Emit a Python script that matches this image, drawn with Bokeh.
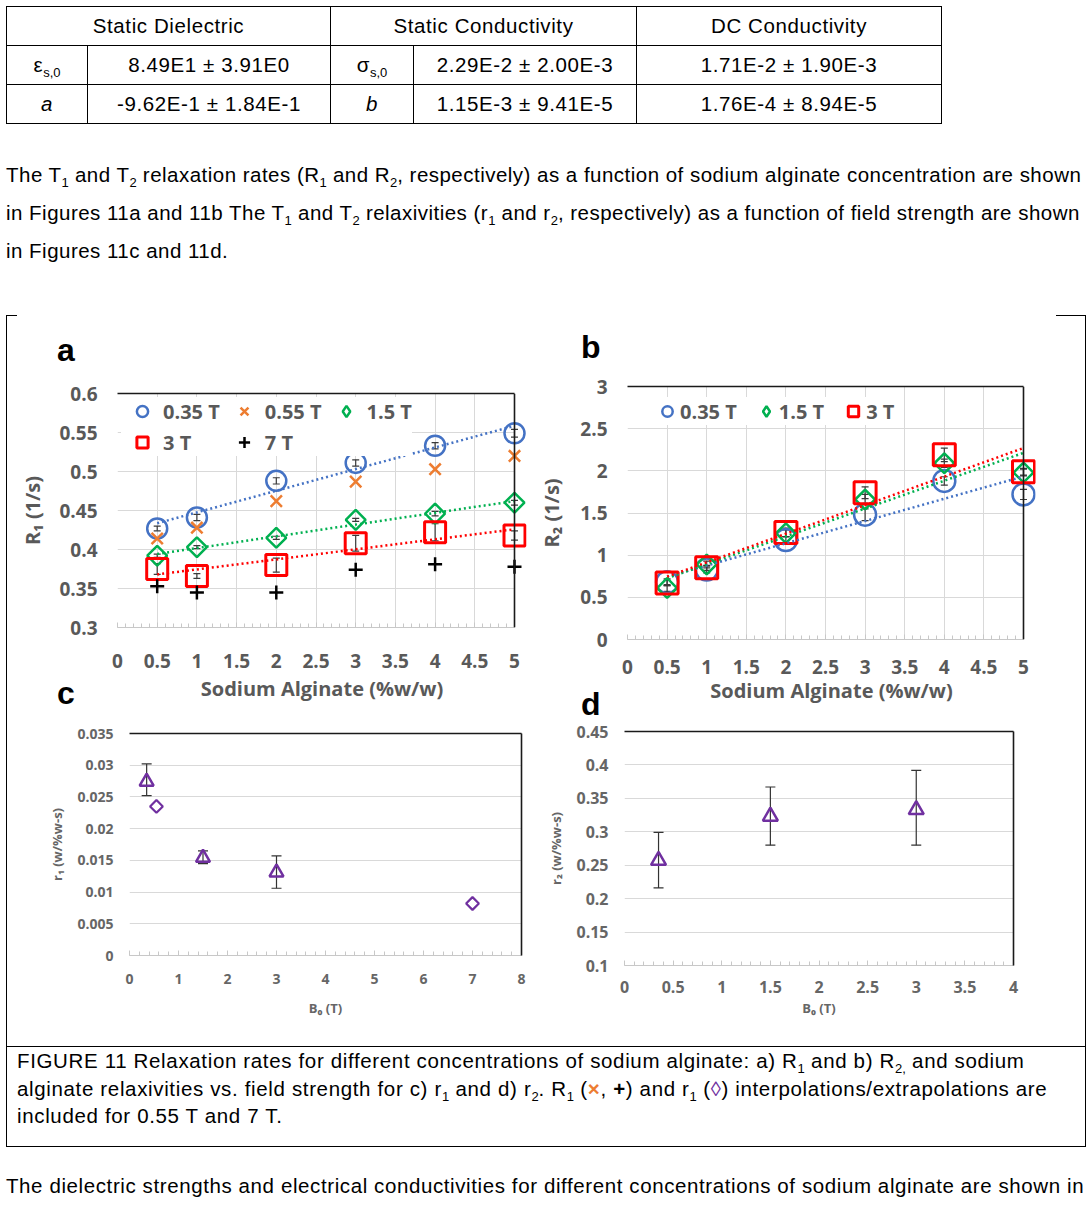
import numpy as np
from bokeh.plotting import figure
from bokeh.models import (ColumnDataSource, Whisker, TeeHead, Legend, LegendItem,
                          LinearAxis, FixedTicker, Div, Spacer, Range1d, Span)
from bokeh.layouts import column, row
from bokeh.embed import file_html
from bokeh.resources import INLINE

# ---------------- data ----------------
conc = [0.5, 1, 2, 3, 4, 5]
# Figure a : R1 (1/s)
r1_035 = [0.427, 0.441, 0.488, 0.511, 0.533, 0.549]
r1_035_err = [0.003, 0.004, 0.004, 0.004, 0.004, 0.005]
r1_055 = [0.414, 0.428, 0.462, 0.487, 0.503, 0.520]
r1_15 = [0.392, 0.403, 0.415, 0.438, 0.446, 0.460]
r1_15_err = [0.002, 0.002, 0.002, 0.002, 0.003, 0.003]
r1_3 = [0.375, 0.366, 0.380, 0.408, 0.422, 0.418]
r1_3_err = [0.007, 0.003, 0.009, 0.010, 0.011, 0.006]
r1_7 = [0.353, 0.345, 0.345, 0.374, 0.381, 0.378]
# Figure b : R2 (1/s)
r2_035 = [0.68, 0.83, 1.18, 1.48, 1.88, 1.72]
r2_035_err = [0.04, 0.04, 0.04, 0.07, 0.05, 0.06]
r2_15 = [0.61, 0.89, 1.26, 1.66, 2.09, 1.98]
r2_15_err = [0.04, 0.04, 0.04, 0.06, 0.05, 0.04]
r2_3 = [0.67, 0.85, 1.27, 1.74, 2.19, 1.99]
r2_3_err = [0.03, 0.03, 0.05, 0.07, 0.08, 0.04]
# Figure c : r1 relaxivity
b0_meas = [0.35, 1.5, 3]
r1_rel = [0.0274, 0.0154, 0.0131]
r1_rel_lo = [0.0252, 0.0145, 0.0106]
r1_rel_hi = [0.0302, 0.0165, 0.0157]
b0_interp = [0.55, 7]
r1_rel_interp = [0.0235, 0.0082]
# Figure d : r2 relaxivity
r2_rel = [0.257, 0.323, 0.333]
r2_rel_lo = [0.216, 0.280, 0.280]
r2_rel_hi = [0.299, 0.367, 0.392]

# tick labels
ab_x_ticks = [0, 0.5, 1, 1.5, 2, 2.5, 3, 3.5, 4, 4.5, 5]
ab_x_labels = ["0", "0.5", "1", "1.5", "2", "2.5", "3", "3.5", "4", "4.5", "5"]
a_y_ticks = [0.3, 0.35, 0.4, 0.45, 0.5, 0.55, 0.6]
a_y_labels = ["0.3", "0.35", "0.4", "0.45", "0.5", "0.55", "0.6"]
b_y_ticks = [0, 0.5, 1, 1.5, 2, 2.5, 3]
b_y_labels = ["0", "0.5", "1", "1.5", "2", "2.5", "3"]
c_x_ticks = [0, 1, 2, 3, 4, 5, 6, 7, 8]
c_x_labels = ["0", "1", "2", "3", "4", "5", "6", "7", "8"]
c_y_ticks = [0, 0.005, 0.01, 0.015, 0.02, 0.025, 0.03, 0.035]
c_y_labels = ["0", "0.005", "0.01", "0.015", "0.02", "0.025", "0.03", "0.035"]
d_x_ticks = [0, 0.5, 1, 1.5, 2, 2.5, 3, 3.5, 4]
d_x_labels = ["0", "0.5", "1", "1.5", "2", "2.5", "3", "3.5", "4"]
d_y_ticks = [0.1, 0.15, 0.2, 0.25, 0.3, 0.35, 0.4, 0.45]
d_y_labels = ["0.1", "0.15", "0.2", "0.25", "0.3", "0.35", "0.4", "0.45"]

BLUE, ORANGE, GREEN, RED, BLACK, PURPLE = "#4472C4", "#ED7D31", "#00B050", "#FF0000", "#000000", "#7030A0"
CF = "Open Sans"
FRAME = "#1a1a1a"


def fit(x, y):
    k, b = np.polyfit(x, y, 1)
    xs = [min(x), max(x)]
    return xs, [k * v + b for v in xs]


def make_fig(w, h, left, right, top, bottom, xr, yr):
    p = figure(width=w, height=h, x_range=Range1d(*xr), y_range=Range1d(*yr),
               output_backend="svg", toolbar_location=None, margin=0,
               min_border_left=left, min_border_right=right,
               min_border_top=top, min_border_bottom=bottom)
    p.outline_line_color = None
    p.background_fill_color = "white"
    p.border_fill_color = "white"
    return p


def style_axes(p, xt, xl, yt, yl, xminor, fs, col, xtitle, ytitle, tfs,
               ystand, xstand, xtstand, ytstand, vgrid, span_right=False):
    p.xaxis.ticker = FixedTicker(ticks=xt, minor_ticks=xminor)
    p.xaxis.major_label_overrides = dict(zip(xt, xl))
    p.yaxis.ticker = FixedTicker(ticks=yt)
    p.yaxis.major_label_overrides = dict(zip(yt, yl))
    for ax in (p.xaxis[0], p.yaxis[0]):
        ax.major_label_text_font = CF
        ax.major_label_text_font_style = "bold"
        ax.major_label_text_font_size = fs
        ax.major_label_text_color = col
        ax.axis_label_text_font = CF
        ax.axis_label_text_font_style = "bold"
        ax.axis_label_text_font_size = tfs
        ax.axis_label_text_color = col
    p.yaxis.axis_line_color = None
    p.yaxis.major_tick_line_color = None
    p.yaxis.minor_tick_line_color = None
    p.yaxis.major_tick_out = 0
    p.yaxis.major_label_standoff = ystand
    p.yaxis.axis_label = ytitle
    p.yaxis.axis_label_standoff = ytstand
    p.xaxis.axis_line_color = "#c8c8c8"
    p.xaxis.major_tick_line_color = "#c8c8c8"
    p.xaxis.minor_tick_line_color = "#c8c8c8"
    p.xaxis.major_tick_in = 5
    p.xaxis.major_tick_out = 0
    p.xaxis.minor_tick_in = 4
    p.xaxis.minor_tick_out = 0
    p.xaxis.major_label_standoff = xstand
    p.xaxis.axis_label = xtitle
    p.xaxis.axis_label_standoff = xtstand
    p.xaxis.bounds = (xt[0], xt[-1])
    p.ygrid.grid_line_color = "#d9d9d9"
    try:
        p.ygrid.cross_bounds = (xt[0], xt[-1])
    except AttributeError:
        pass
    p.xgrid.grid_line_color = "#d9d9d9" if vgrid else None
    # black frame line on top (Excel-style secondary axis)
    top = LinearAxis(ticker=FixedTicker(ticks=[]), major_label_text_font_size="0px",
                     major_tick_line_color=None, minor_tick_line_color=None,
                     major_tick_out=0, major_label_standoff=0, bounds=(xt[0], xt[-1]),
                     axis_line_color=FRAME, axis_line_width=1.6)
    p.add_layout(top, "above")
    if span_right:
        p.add_layout(Span(location=xt[-1], dimension="height", line_color=FRAME, line_width=1.6))
    else:
        right = LinearAxis(ticker=FixedTicker(ticks=[]), major_label_text_font_size="0px",
                           major_tick_line_color=None, minor_tick_line_color=None,
                           major_tick_out=0, major_label_standoff=0,
                           axis_line_color=FRAME, axis_line_width=1.6)
        p.add_layout(right, "right")


def whisk(p, x, y, err, color, size=8, lw=1.2):
    src = ColumnDataSource(dict(x=x, lo=[a - e for a, e in zip(y, err)], hi=[a + e for a, e in zip(y, err)]))
    p.add_layout(Whisker(base="x", lower="lo", upper="hi", source=src, dimension="height",
                         line_color=color, line_width=lw,
                         upper_head=TeeHead(size=size, line_color=color, line_width=lw),
                         lower_head=TeeHead(size=size, line_color=color, line_width=lw)))


def whisk_lohi(p, x, lo, hi, color, size=10, lw=1.2):
    src = ColumnDataSource(dict(x=x, lo=lo, hi=hi))
    p.add_layout(Whisker(base="x", lower="lo", upper="hi", source=src, dimension="height",
                         line_color=color, line_width=lw,
                         upper_head=TeeHead(size=size, line_color=color, line_width=lw),
                         lower_head=TeeHead(size=size, line_color=color, line_width=lw)))


def style_legend(leg, gw, gh, spacing):
    leg.label_text_font = CF
    leg.label_text_font_style = "bold"
    leg.label_text_font_size = "20px"
    leg.label_text_color = "#595959"
    leg.glyph_width = gw
    leg.glyph_height = gh
    leg.label_standoff = 0
    leg.spacing = spacing
    leg.padding = 0
    leg.margin = 0
    leg.border_line_color = None
    leg.background_fill_color = "white"
    leg.background_fill_alpha = 1.0
    leg.inactive_fill_alpha = 0.0


# ---------------- figure a ----------------
# frame is 12 px wider than the 0..5 axis so the markers at x=5 are not cut
fa = make_fig(527, 338, 110, 8, 27, 76, (0, 5 * 409 / 397), (0.3, 0.6))
style_axes(fa, ab_x_ticks, ab_x_labels, a_y_ticks, a_y_labels,
           list(np.arange(0, 5.0001, 0.1)), "19px", "#595959",
           "Sodium Alginate (%w/w)", "R\u2081 (1/s)", "20px", 20, 26, 4, 10, True, span_right=True)
whisk(fa, conc, r1_035, r1_035_err, "#3a3a3a", 7)
whisk(fa, conc, r1_15, r1_15_err, "#3a3a3a", 7)
whisk(fa, conc, r1_3, r1_3_err, "#3a3a3a", 7)
ra1 = fa.scatter(conc, r1_035, marker="circle", size=20, fill_color=None, line_color=BLUE, line_width=2.5)
ra2 = fa.scatter(conc, r1_055, marker="x", size=16, line_color=ORANGE, line_width=2.5)
fa.scatter(conc, r1_15, marker="square", angle=np.pi / 4, size=14, fill_color=None, line_color=GREEN, line_width=2.5)
ra4 = fa.scatter(conc, r1_3, marker="square", size=21, fill_color=None, line_color=RED, line_width=3)
ra5 = fa.scatter(conc, r1_7, marker="cross", size=14, line_color=BLACK, line_width=2.5)
# hidden twin of the 1.5 T series: only supplies the diamond glyph of the legend
ra3 = fa.scatter(conc, r1_15, marker="diamond", size=16, fill_color=None, line_color=GREEN, line_width=2.5, visible=False)
for ys, c in ((r1_035, BLUE), (r1_15, GREEN), (r1_3, RED)):
    xs, yf = fit(conc, ys)
    fa.line(xs, yf, line_color=c, line_width=2.5, line_dash="2 3")
lega = Legend(items=[LegendItem(label="0.35 T", renderers=[ra1]),
                     LegendItem(label="3 T", renderers=[ra4]),
                     LegendItem(label="0.55 T", renderers=[ra2]),
                     LegendItem(label="7 T", renderers=[ra5]),
                     LegendItem(label="1.5 T", renderers=[ra3])],
              ncols=3, location=(4, 171))
style_legend(lega, 42, 28, 3)
fa.add_layout(lega)

# ---------------- figure b ----------------
fb = make_fig(551, 348, 93, 50, 22, 73, (0, 5 * 408 / 396), (0, 3))
style_axes(fb, ab_x_ticks, ab_x_labels, b_y_ticks, b_y_labels,
           list(np.arange(0, 5.0001, 0.1)), "19px", "#595959",
           "Sodium Alginate (%w/w)", "R\u2082 (1/s)", "20px", 20, 20, 0, 12, True, span_right=True)
whisk(fb, conc, r2_035, r2_035_err, "#3a3a3a", 7)
whisk(fb, conc, r2_15, r2_15_err, "#3a3a3a", 7)
whisk(fb, conc, r2_3, r2_3_err, "#3a3a3a", 7)
rb1 = fb.scatter(conc, r2_035, marker="circle", size=22, fill_color=None, line_color=BLUE, line_width=2.5)
fb.scatter(conc, r2_15, marker="square", angle=np.pi / 4, size=14, fill_color=None, line_color=GREEN, line_width=2.5)
rb3 = fb.scatter(conc, r2_3, marker="square", size=22, fill_color=None, line_color=RED, line_width=3)
rb2 = fb.scatter(conc, r2_15, marker="diamond", size=16, fill_color=None, line_color=GREEN, line_width=2.5, visible=False)
for ys, c in ((r2_035, BLUE), (r2_15, GREEN), (r2_3, RED)):
    xs, yf = fit(conc, ys)
    fb.line(xs, yf, line_color=c, line_width=2.5, line_dash="2 3")
legb = Legend(items=[LegendItem(label="0.35 T", renderers=[rb1]),
                     LegendItem(label="1.5 T", renderers=[rb2]),
                     LegendItem(label="3 T", renderers=[rb3])],
              orientation="horizontal", location=(27, 214))
style_legend(legb, 26, 28, 16)
fb.add_layout(legb)

# ---------------- figure c ----------------
fc = make_fig(527, 340, 122, 13, 27, 91, (0, 8), (0, 0.035))
style_axes(fc, c_x_ticks, c_x_labels, c_y_ticks, c_y_labels,
           list(np.arange(0, 8.0001, 0.2)), "14px", "#666666",
           "B\u2080 (T)", "r\u2081 (w/%w-s)", "13px", 16, 18, 12, 8, False)
whisk_lohi(fc, b0_meas, r1_rel_lo, r1_rel_hi, "#333333", 10)
fc.scatter(b0_meas, r1_rel, marker="triangle", size=14, fill_color=None, line_color=PURPLE, line_width=2.5)
fc.scatter(b0_interp, r1_rel_interp, marker="square", angle=np.pi / 4, size=9, fill_color=None, line_color=PURPLE, line_width=2.2)

# ---------------- figure d ----------------
fd = make_fig(551, 329, 90, 72, 14, 81, (0, 4), (0.1, 0.45))
style_axes(fd, d_x_ticks, d_x_labels, d_y_ticks, d_y_labels,
           list(np.arange(0, 4.0001, 0.1)), "16px", "#666666",
           "B\u2080 (T)", "r\u2082 (w/%w-s)", "13px", 16, 15, 3, 8, False)
whisk_lohi(fd, b0_meas, r2_rel_lo, r2_rel_hi, "#333333", 10)
fd.scatter(b0_meas, r2_rel, marker="triangle", size=15, fill_color=None, line_color=PURPLE, line_width=2.5)

# ---------------- text blocks ----------------
BASE = "font-family:'Liberation Sans',Arial,sans-serif; font-size:20.5px; color:#000;"
cell = "border:1px solid #000; text-align:center; vertical-align:top; padding:4px 0 0 0;"
sub = "<sub style='font-size:13px; line-height:0; letter-spacing:0;'>%s</sub>"
table_html = (
    "<table style=\"border-collapse:collapse; table-layout:fixed; width:935px; " + BASE + " letter-spacing:0.6px;\">"
    "<colgroup><col style='width:81px'><col style='width:243px'><col style='width:83px'><col style='width:223px'><col style='width:305px'></colgroup>"
    "<tr style='height:39px'><td colspan='2' style='%s'>Static Dielectric</td><td colspan='2' style='%s'>Static Conductivity</td><td style='%s'>DC Conductivity</td></tr>"
    "<tr style='height:39px'><td style='%s'>&epsilon;%s</td><td style='%s'>8.49E1 &plusmn; 3.91E0</td><td style='%s'>&sigma;%s</td><td style='%s'>2.29E-2 &plusmn; 2.00E-3</td><td style='%s'>1.71E-2 &plusmn; 1.90E-3</td></tr>"
    "<tr style='height:39px'><td style='%s'><i>a</i></td><td style='%s'>-9.62E-1 &plusmn; 1.84E-1</td><td style='%s'><i>b</i></td><td style='%s'>1.15E-3 &plusmn; 9.41E-5</td><td style='%s'>1.76E-4 &plusmn; 8.94E-5</td></tr>"
    "</table>"
) % (cell, cell, cell,
     cell, sub % "s,0", cell, cell, sub % "s,0", cell, cell,
     cell, cell, cell, cell, cell)

s1 = sub % "1"
s2 = sub % "2"
para_html = (
    "<div style=\"" + BASE + " letter-spacing:0.48px; line-height:38px; padding-top:32px; white-space:nowrap;\">"
    "The T%s and T%s relaxation rates (R%s and R%s, respectively) as a function of sodium alginate concentration are shown<br>"
    "in Figures 11a and 11b The T%s and T%s relaxivities (r%s and r%s, respectively) as a function of field strength are shown<br>"
    "in Figures 11c and 11d.</div>"
) % (s1, s2, s1, s2, s1, s2, s1, s2)

caption_html = (
    "<div style=\"box-sizing:border-box; width:1080px; height:101px; border:1px solid #000; padding:0 0 0 10px; "
    + BASE + " letter-spacing:0.65px; line-height:27.5px; white-space:nowrap;\">"
    "FIGURE 11 Relaxation rates for different concentrations of sodium alginate: a) R%s and b) R%s and sodium<br>"
    "alginate relaxivities vs. field strength for c) r%s and d) r%s. R%s (<b style='color:#ED7D31'>&times;</b>, <b>+</b>) and r%s "
    "(<span style='color:#7030A0'>&#9674;</span>) interpolations/extrapolations are<br>"
    "included for 0.55 T and 7 T.</div>"
) % (s1, sub % "2,", s1, s2, s1, s1)

last_html = (
    "<div style=\"" + BASE + " letter-spacing:0.6px; line-height:24px; padding-top:27px; white-space:nowrap;\">"
    "The dielectric strengths and electrical conductivities for different concentrations of sodium alginate are shown in</div>"
)

LETTER = "font-family:'Liberation Sans',Arial,sans-serif; font-weight:bold; font-size:32px; line-height:32px; color:#000;"


def letter_div(txt, w, h, top, left):
    html = ("<div style=\"position:relative; z-index:10; top:%dpx; left:%dpx; width:40px; " % (top, left)
            + LETTER + "\">" + txt + "</div>")
    return Div(text=html, width=w, height=h, margin=0, styles={"overflow": "visible", "z-index": "10"})


def bar(w, h):
    return Div(text="", width=w, height=h, margin=0, styles={"background-color": "#000"})


table_div = Div(text=table_html, width=1080, height=118, margin=0)
para_div = Div(text=para_html, width=1080, height=191, margin=0)

div_a = letter_div("a", 527, 50, 18, 50)
div_c = letter_div("c", 527, 2, -27, 50)
div_b = letter_div("b", 551, 48, 15, 47)
div_d = letter_div("d", 551, 5, -24, 47)

left_col = column(div_a, row(fa, margin=0), div_c, row(fc, margin=0), spacing=0, margin=0)
right_col = column(div_b, row(fb, margin=0), div_d, row(fd, margin=0), spacing=0, margin=0)

top_strip = row(bar(11, 1), Spacer(width=1039, height=1, margin=0), bar(30, 1), margin=0, spacing=0)
figs = row(bar(1, 730), left_col, right_col, bar(1, 730), spacing=0, margin=0)
caption_div = Div(text=caption_html, width=1080, height=101, margin=0)
last_div = Div(text=last_html, width=1080, height=51, margin=0)

page = column(table_div, para_div, top_strip, figs, caption_div, last_div,
              spacing=0, margin=(6, 0, 0, 6))

open("out.html", "w").write(file_html(page, INLINE, title="Figure 11"))
